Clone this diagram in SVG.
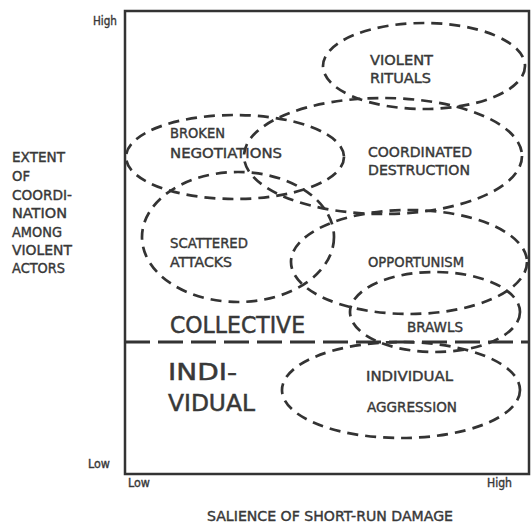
<svg xmlns="http://www.w3.org/2000/svg" width="531" height="524" viewBox="0 0 531 524">
<style>
.t{font-family:"DejaVu Sans","Liberation Sans",sans-serif;fill:#383838;stroke:#383838;stroke-width:0.4}
.s{font-size:13.5px}
.ax{font-size:12px}
.big{font-size:23px;stroke-width:0.5}
.el{fill:none;stroke:#333;stroke-width:2.7;stroke-dasharray:11 7}
</style>
<rect width="531" height="524" fill="#ffffff"/>
<g id="axes">
<rect x="125" y="11" width="404" height="463" fill="none" stroke="#333" stroke-width="2.5"/>
<line x1="125" y1="342" x2="530" y2="342" stroke="#333" stroke-width="3" stroke-dasharray="25 8"/>
</g>
<g id="labels">
<text class="t ax" x="93" y="25" textLength="24" lengthAdjust="spacingAndGlyphs">High</text>
<text class="t ax" x="88" y="468" textLength="22" lengthAdjust="spacingAndGlyphs">Low</text>
<text class="t ax" x="128" y="487" textLength="22" lengthAdjust="spacingAndGlyphs">Low</text>
<text class="t ax" x="487" y="487" textLength="25" lengthAdjust="spacingAndGlyphs">High</text>
<text class="t s" x="207" y="521" textLength="246" lengthAdjust="spacingAndGlyphs">SALIENCE OF SHORT-RUN DAMAGE</text>
<text class="t s" x="12" y="162" textLength="53" lengthAdjust="spacingAndGlyphs">EXTENT</text>
<text class="t s" x="12" y="181" textLength="18" lengthAdjust="spacingAndGlyphs">OF</text>
<text class="t s" x="12" y="200" textLength="60" lengthAdjust="spacingAndGlyphs">COORDI-</text>
<text class="t s" x="12" y="218" textLength="55" lengthAdjust="spacingAndGlyphs">NATION</text>
<text class="t s" x="12" y="237" textLength="50" lengthAdjust="spacingAndGlyphs">AMONG</text>
<text class="t s" x="12" y="255" textLength="60" lengthAdjust="spacingAndGlyphs">VIOLENT</text>
<text class="t s" x="12" y="273" textLength="53" lengthAdjust="spacingAndGlyphs">ACTORS</text>
<text class="t big" x="170" y="333" textLength="135" lengthAdjust="spacingAndGlyphs">COLLECTIVE</text>
<text class="t big" x="168" y="380" textLength="69" lengthAdjust="spacingAndGlyphs">INDI-</text>
<text class="t big" x="168" y="411" textLength="87" lengthAdjust="spacingAndGlyphs">VIDUAL</text>
</g>
<g id="violent-rituals">
<ellipse class="el" cx="424" cy="66" rx="101" ry="43"/>
<text class="t s" x="370" y="65" textLength="63" lengthAdjust="spacingAndGlyphs">VIOLENT</text>
<text class="t s" x="370" y="83" textLength="61" lengthAdjust="spacingAndGlyphs">RITUALS</text>
</g>
<g id="broken-negotiations">
<ellipse class="el" cx="235" cy="157" rx="109" ry="42"/>
<text class="t s" x="170" y="138" textLength="55" lengthAdjust="spacingAndGlyphs">BROKEN</text>
<text class="t s" x="170" y="158" textLength="112" lengthAdjust="spacingAndGlyphs">NEGOTIATIONS</text>
</g>
<g id="coordinated-destruction">
<ellipse class="el" cx="383" cy="156" rx="139" ry="58"/>
<text class="t s" x="368" y="157" textLength="104" lengthAdjust="spacingAndGlyphs">COORDINATED</text>
<text class="t s" x="368" y="175" textLength="102" lengthAdjust="spacingAndGlyphs">DESTRUCTION</text>
</g>
<g id="scattered-attacks">
<ellipse class="el" cx="238" cy="237" rx="96" ry="65"/>
<text class="t s" x="170" y="248" textLength="78" lengthAdjust="spacingAndGlyphs">SCATTERED</text>
<text class="t s" x="170" y="267" textLength="62" lengthAdjust="spacingAndGlyphs">ATTACKS</text>
</g>
<g id="opportunism">
<ellipse class="el" cx="409" cy="262" rx="118" ry="52"/>
<text class="t s" x="368" y="267" textLength="96" lengthAdjust="spacingAndGlyphs">OPPORTUNISM</text>
</g>
<g id="brawls">
<ellipse class="el" cx="435" cy="312" rx="85" ry="40"/>
<text class="t s" x="407" y="332" textLength="56" lengthAdjust="spacingAndGlyphs">BRAWLS</text>
</g>
<g id="individual-aggression">
<ellipse class="el" cx="401" cy="390" rx="119" ry="48"/>
<text class="t s" x="366" y="381" textLength="87" lengthAdjust="spacingAndGlyphs">INDIVIDUAL</text>
<text class="t s" x="367" y="412" textLength="90" lengthAdjust="spacingAndGlyphs">AGGRESSION</text>
</g>
</svg>
